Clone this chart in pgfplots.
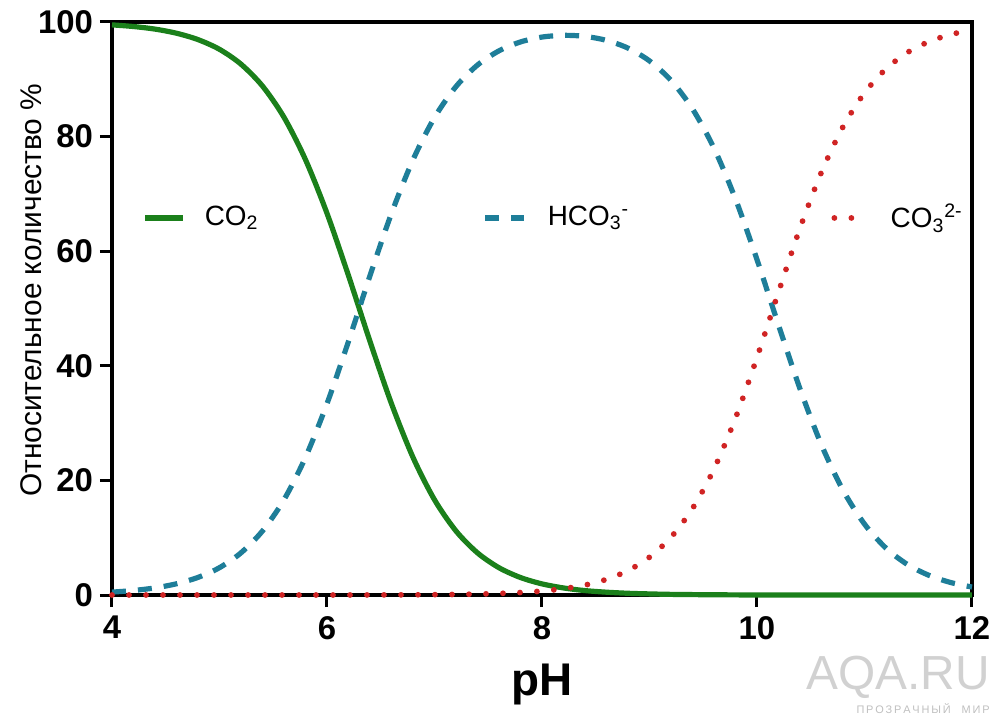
\documentclass[border=0pt]{standalone}
\usepackage{pgfplots}
\pgfplotsset{compat=1.18}
\usepackage{fontspec}
\setmainfont{Liberation Sans}
\definecolor{cgreen}{HTML}{1B801B}
\definecolor{cteal}{HTML}{1E7E99}
\definecolor{cred}{HTML}{D02424}
\begin{document}
\begin{tikzpicture}
\begin{axis}[
  name=ax,
  scale only axis,
  width=430bp, height=286.5bp,
  xmin=4, xmax=12, ymin=0, ymax=100,
  xtick={4,6,8,10,12}, ytick={0,20,40,60,80,100},
  tick pos=left, tick align=outside,
  major tick length=6bp,
  every tick/.style={black, line width=1.5bp},
  axis line style={line width=1.6bp},
  /pgf/number format/assume math mode=true,
  ticklabel style={font=\fontsize{16.5}{16.5}\selectfont\bfseries},
  xticklabel style={yshift=-1bp},
  xlabel={pH},
  ylabel={Относительное количество \%},
  xlabel style={font=\fontsize{23}{23}\selectfont\bfseries, at={(axis description cs:0.5,-0.157)}, anchor=center},
  ylabel style={font=\fontsize{15}{15}\selectfont, at={(axis description cs:-0.094,0.532)}, anchor=center},
  clip=false,
]
% CO2
\addplot[cgreen, line width=2.6bp, smooth] coordinates {
(4.0,99.50) (4.2,99.21) (4.4,98.76) (4.6,98.04) (4.8,96.93) (5.0,95.23)
(5.2,92.64) (5.4,88.82) (5.6,83.37) (5.8,75.97) (6.0,66.61) (6.2,55.73)
(6.4,44.26) (6.6,33.38) (6.8,24.02) (7.0,16.62) (7.2,11.17) (7.4,7.35)
(7.6,4.76) (7.8,3.05) (8.0,1.94) (8.2,1.23) (8.4,0.77) (8.6,0.49)
(8.8,0.30) (9.0,0.19) (9.2,0.11) (9.4,0.07) (9.6,0.04) (9.8,0.02)
(10.0,0.01) (10.4,0) (11.0,0) (12.0,0)};
% HCO3-
\addplot[cteal, line width=2.6bp, smooth, dash pattern=on 7bp off 6bp] coordinates {
(4.0,0.50) (4.2,0.79) (4.4,1.24) (4.6,1.96) (4.8,3.07) (5.0,4.77)
(5.2,7.36) (5.4,11.18) (5.6,16.63) (5.8,24.03) (6.0,33.39) (6.2,44.27)
(6.4,55.73) (6.6,66.60) (6.8,75.95) (7.0,83.32) (7.2,88.73) (7.4,92.49)
(7.6,94.97) (7.8,96.52) (8.0,97.37) (8.2,97.67) (8.4,97.49) (8.6,96.79)
(8.8,95.44) (9.0,93.21) (9.2,89.81) (9.4,84.84) (9.6,77.98) (9.8,69.11)
(10.0,58.54) (10.2,47.12) (10.4,35.99) (10.6,26.19) (10.8,18.29) (11.0,12.38)
(11.2,8.18) (11.4,5.32) (11.6,3.43) (11.8,2.19) (12.0,1.39)};
% CO3 2-
\addplot[cred, line width=2.9bp, smooth, line cap=round, dash pattern=on 0bp off 8.5bp] coordinates {
(4.0,0) (5.0,0) (6.0,0) (6.4,0.01) (6.6,0.02) (6.8,0.03) (7.0,0.06) (7.2,0.10)
(7.4,0.16) (7.6,0.27) (7.8,0.43) (8.0,0.69) (8.2,1.10) (8.4,1.73)
(8.6,2.73) (8.8,4.26) (9.0,6.60) (9.2,10.08) (9.4,15.09) (9.6,21.98)
(9.8,30.87) (10.0,41.45) (10.2,52.87) (10.4,64.01) (10.6,73.81) (10.8,81.71)
(11.0,87.62) (11.2,91.82) (11.4,94.68) (11.6,96.57) (11.8,97.81) (12.0,98.61)};
% legend samples
\addplot[cgreen, line width=2.6bp] coordinates {(4.31,65.8) (4.66,65.8)};
\addplot[cteal, line width=2.6bp, dash pattern=on 7bp off 6bp] coordinates {(7.47,65.8) (7.83,65.8)};
\addplot[cred, line width=2.9bp, line cap=round, dash pattern=on 0bp off 8.5bp] coordinates {(10.72,65.8) (10.98,65.8)};
\node[anchor=west, font=\fontsize{14}{14}\selectfont, inner sep=0pt] at (axis cs:4.86,65.8) {CO\textsubscript{2}};
\node[anchor=west, font=\fontsize{14}{14}\selectfont, inner sep=0pt] at (axis cs:8.05,65.8) {HCO\textsubscript{3}\textsuperscript{-}};
\node[anchor=west, font=\fontsize{14}{14}\selectfont, inner sep=0pt] at (axis cs:11.24,65.8) {CO\textsubscript{3}\textsuperscript{2-}};
\end{axis}
\node[anchor=south east, inner sep=0pt, text=black!18, font=\fontsize{24}{24}\selectfont] at ([shift={(439bp,-52bp)}]ax.south west) {AQA.RU};
\node[anchor=north east, inner sep=0pt, text=black!25, font=\fontsize{5.5}{5.5}\selectfont] at ([shift={(439bp,-54bp)}]ax.south west) {П\,Р\,О\,З\,Р\,А\,Ч\,Н\,Ы\,Й\quad М\,И\,Р};
\pgfresetboundingbox
\path ([shift={(-56bp,-61.5bp)}]ax.south west) rectangle ([shift={(444bp,297.5bp)}]ax.south west);
\end{tikzpicture}
\end{document}
